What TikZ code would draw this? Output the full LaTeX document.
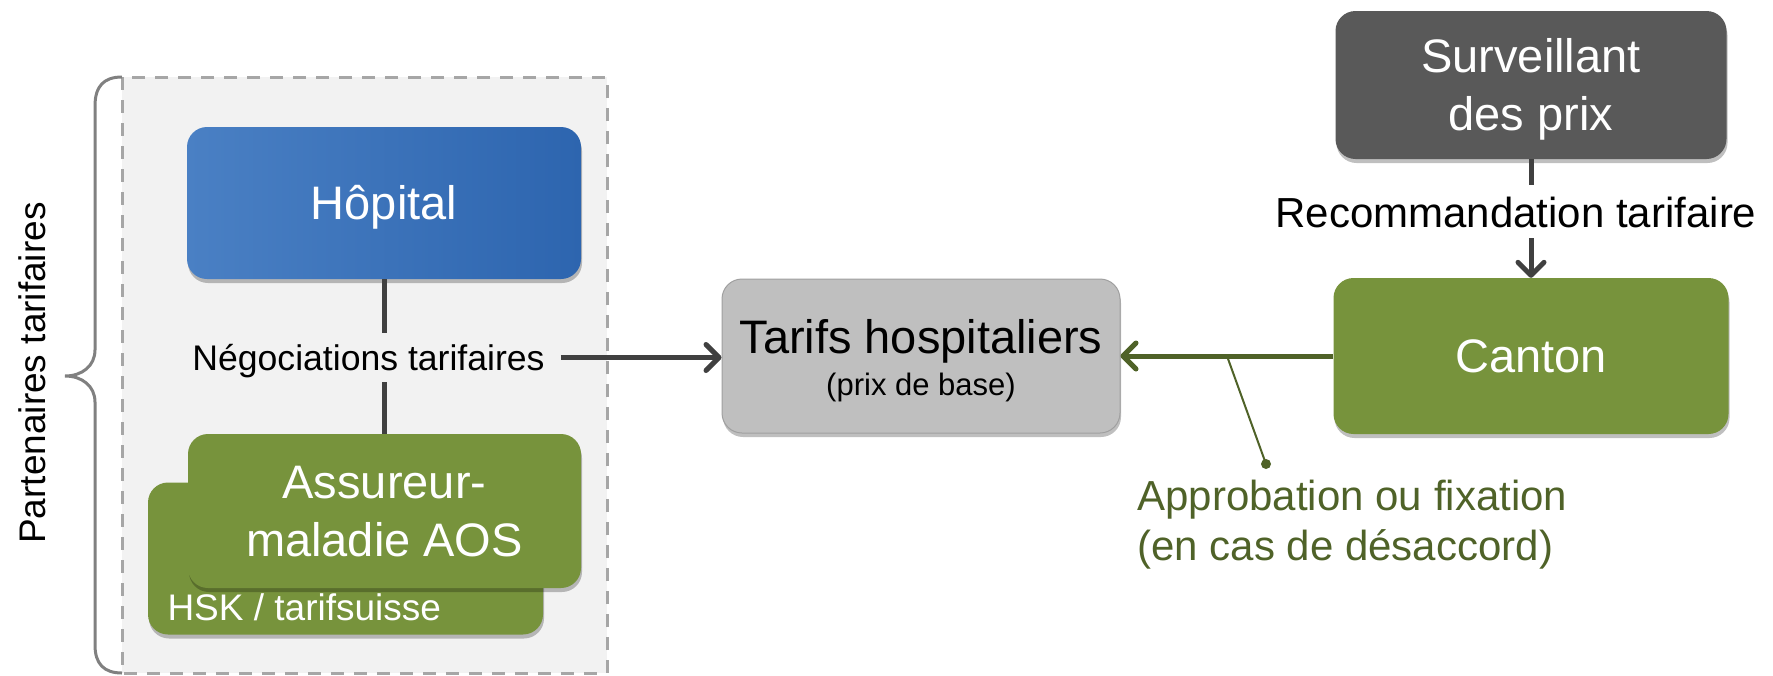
\documentclass[tikz,border=0pt]{standalone}
\usepackage{fontspec}
\setmainfont{Liberation Sans}
\usetikzlibrary{arrows.meta,shadows}

\definecolor{panelfill}{HTML}{F2F2F2}
\definecolor{paneldash}{HTML}{A6A6A6}
\definecolor{bracegray}{HTML}{808080}
\definecolor{hopblueL}{HTML}{4A80C4}
\definecolor{hopblueR}{HTML}{2D65AF}
\definecolor{olive}{HTML}{77933C}
\definecolor{oliveD}{HTML}{4F6228}
\definecolor{darkbox}{HTML}{595959}
\definecolor{tarifgray}{HTML}{BFBFBF}
\definecolor{tarifedge}{HTML}{A0A0A0}
\definecolor{linkgray}{HTML}{404040}

% uniform line strut so that box texts sit like in a slide
\newcommand\boxstrut{\rule[-0.21em]{0pt}{1.13em}}

\tikzset{
  boxnode/.style={rectangle, rounded corners=20pt, inner sep=0pt, align=center,
    text=white, font=\fontsize{47}{57.5}\selectfont,
    drop shadow={shadow xshift=1pt, shadow yshift=-4pt, opacity=0.25, fill=black}},
  link/.style={draw=linkgray, line width=5pt},
  greenlink/.style={draw=oliveD, line width=5pt},
  barb/.style={-{Straight Barb[length=13pt, width=26pt, line cap=round, line join=round]}},
}

\begin{document}
\begin{tikzpicture}[x=1pt, y=-1pt]
\useasboundingbox (0,0) rectangle (1773,675);

% tariff partners panel
\path[draw=paneldash, fill=panelfill, line width=3pt, dash pattern=on 13pt off 10pt]
  (122,77) rectangle (607,673);

% curly brace
\draw[bracegray, line width=3pt]
  (122,77) .. controls (104,77) and (95,86) .. (95,106) -- (95,350)
  .. controls (95,366) and (82,376) .. (65,376)
  .. controls (82,376) and (95,386) .. (95,402) -- (95,645)
  .. controls (95,664) and (104,673) .. (122,673);

\node[rotate=90, font=\fontsize{37}{44}\selectfont] (partners) at (32,373) {Partenaires tarifaires};

% boxes
\node[boxnode, left color=hopblueL, right color=hopblueR,
      minimum width=394pt, minimum height=152pt] (hop) at (384,203) {\boxstrut Hôpital};

\node[boxnode, fill=olive, minimum width=395pt, minimum height=152pt] (back) at (345.5,558.5) {};
\node[anchor=base west, text=white, font=\fontsize{37}{44}\selectfont] (hsk) at (164,620) {HSK / tarifsuisse};

\node[boxnode, fill=olive, minimum width=393pt, minimum height=154pt] (ass) at (384.5,511)
  {\boxstrut Assureur-\\\boxstrut maladie AOS};

\node[boxnode, fill=tarifgray, draw=tarifedge, line width=1pt, text=black,
      font=\fontsize{31}{42}\selectfont,
      minimum width=398pt, minimum height=154pt] (tarif) at (921,356)
  {{\fontsize{47}{50}\selectfont\boxstrut Tarifs hospitaliers}\\(prix de base)};

\node[boxnode, fill=darkbox, minimum width=391pt, minimum height=148pt] (surv) at (1531,85)
  {\boxstrut Surveillant\\\boxstrut des prix};

\node[boxnode, fill=olive, minimum width=395pt, minimum height=156pt] (canton) at (1531,356)
  {\boxstrut Canton};

% negotiation between partners
\node[anchor=base, font=\fontsize{35.6}{40}\selectfont, text height=37pt, text depth=12pt,
      inner ysep=0pt, inner xsep=16pt] (neg) at (368.5,370) {Négociations tarifaires};
\draw[link] (hop.south) -- (hop.south |- neg.north);
\draw[link] (ass.north |- neg.south) -- (ass.north);
\draw[link, barb] (neg.east) -- (neg.east -| tarif.west);

% price supervisor recommendation
\node[anchor=base, font=\fontsize{42}{48}\selectfont, text height=42pt, text depth=11pt,
      inner sep=0pt] (rec) at (1516,227) {Recommandation tarifaire};
\draw[link] (surv.south) -- (surv.south |- rec.north);
\draw[link, barb] (canton.north |- rec.south) -- (canton.north);

% canton approval
\draw[greenlink, barb] (canton.west) -- (tarif.east);
\coordinate (junction) at (1227,356);
\node[circle, fill=oliveD, inner sep=0pt, minimum size=10pt] (dot) at (1266,464) {};
\draw[oliveD, line width=2pt] (dot.center) -- (junction);
\node[anchor=base west, text=oliveD, font=\fontsize{42}{50}\selectfont] (appr) at (1134,510) {Approbation ou fixation};
\node[anchor=base west, text=oliveD, font=\fontsize{42}{50}\selectfont] (apprnote) at (1134,560) {(en cas de désaccord)};
\end{tikzpicture}
\end{document}
